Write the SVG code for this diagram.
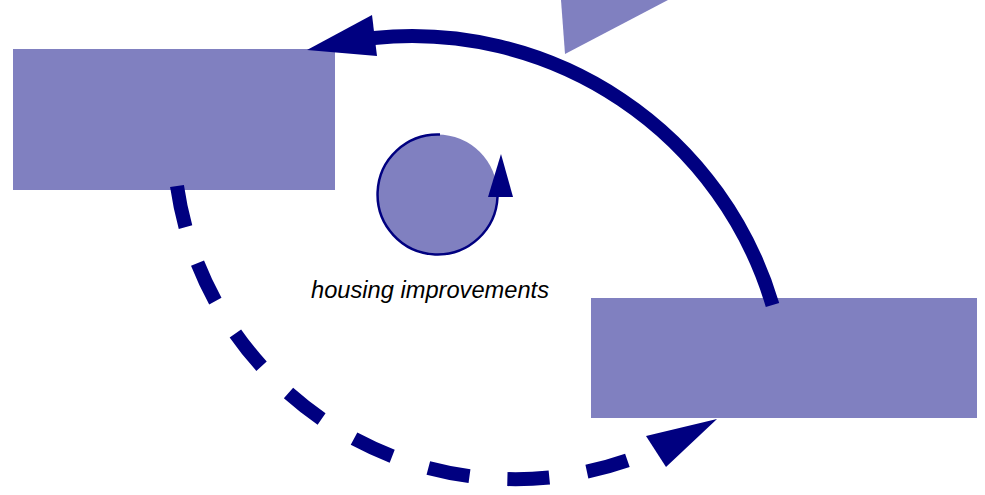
<svg xmlns="http://www.w3.org/2000/svg" width="985" height="495" viewBox="0 0 985 495">
<style>
.box{fill:#8080c0;stroke:none}
.arc{fill:none;stroke:#000080;stroke-width:14}
.head{fill:#000080;stroke:none}
.lbl{font-family:"Liberation Sans",Arial,sans-serif;font-style:italic;font-size:24px;fill:#000}
</style>
<rect width="985" height="495" fill="#fff"/>
<g id="node-top"><polygon class="box" points="561,0 668,0 565,54"/></g>
<g id="node-left"><rect class="box" x="13" y="49" width="322" height="141"/></g>
<g id="node-right"><rect class="box" x="591" y="298" width="386" height="120"/></g>
<g id="connectors">
<path class="arc" d="M772.5,305 A376,376 0 0 0 374,38"/>
<polygon class="head" points="307,50 372,15 377,56"/>
<path class="arc" d="M177,186 A342,342 0 0 0 656,449" stroke-dasharray="42,38"/>
<polygon class="head" points="717,419 646,436 666,467"/>
</g>
<g id="loop">
<circle cx="437.5" cy="194.5" r="60" fill="#8080c0"/>
<path d="M440,134.5 A60,60 0 1 0 497.5,197" fill="none" stroke="#000080" stroke-width="2.5"/>
<polygon class="head" points="501,154 488,197 513,197"/>
<text class="lbl" x="311" y="298" textLength="238" lengthAdjust="spacingAndGlyphs">housing improvements</text>
</g>
</svg>
